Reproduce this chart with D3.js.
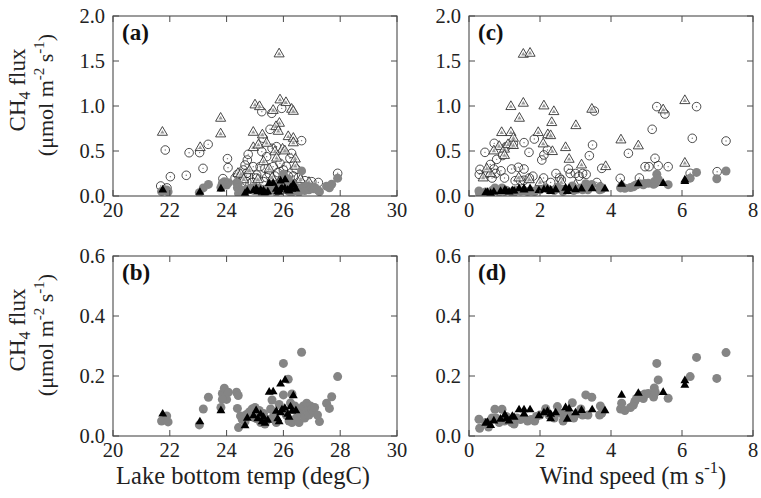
<!DOCTYPE html>
<html>
<head>
<meta charset="utf-8">
<script src="https://cdn.jsdelivr.net/npm/d3@7"></script>
<style>
  html, body { margin: 0; padding: 0; background: #fff; }
  svg { display: block; font-family: "Liberation Serif", "Times New Roman", serif; }
</style>
</head>
<body>
<svg id="chart" width="761" height="498"></svg>
<script>
// ---- data: [x, flux] pairs ----

// lake bottom temperature (degC) vs CH4 flux
const openTriTemp = [
  [21.74, 0.707], [23.79, 0.863], [23.79, 0.689], [23.07, 0.537], [25.85, 1.578],
  [25.00, 1.011], [25.16, 0.992], [25.88, 1.067], [26.09, 1.037], [25.64, 0.950],
  [26.29, 0.963], [26.35, 0.940], [25.86, 0.807], [25.74, 0.770], [24.94, 0.707],
  [25.26, 0.678], [25.82, 0.718], [26.17, 0.659], [26.35, 0.640], [26.35, 0.590],
  [24.94, 0.537], [25.12, 0.566], [25.41, 0.585], [25.97, 0.520], [26.05, 0.500],
  [25.70, 0.490], [25.76, 0.420], [26.42, 0.410], [26.42, 0.330], [25.50, 0.300],
  [24.40, 0.250], [24.50, 0.240], [24.80, 0.280], [24.60, 0.180], [25.10, 0.180],
  [25.60, 0.200], [26.00, 0.170], [26.60, 0.180], [26.90, 0.150], [25.30, 0.380]
];
const openCircTemp = [
  [21.68, 0.111], [21.84, 0.511], [21.90, 0.090], [22.02, 0.215], [22.58, 0.230],
  [22.68, 0.481], [23.05, 0.482], [23.17, 0.307], [23.35, 0.574], [23.87, 0.193],
  [24.03, 0.415], [24.05, 0.315], [24.38, 0.240], [24.71, 0.252], [24.71, 0.159],
  [25.06, 0.200], [25.24, 0.937], [25.94, 0.974], [25.59, 0.919], [25.53, 0.741],
  [25.29, 0.642], [24.76, 0.463], [24.73, 0.400], [26.64, 0.615], [25.24, 0.493],
  [25.41, 0.437], [25.76, 0.548], [25.60, 0.530], [26.23, 0.419], [26.29, 0.474],
  [24.65, 0.344], [24.94, 0.326], [25.18, 0.326], [25.35, 0.307], [25.64, 0.326],
  [25.88, 0.363], [26.00, 0.289], [25.06, 0.233], [24.70, 0.222], [25.41, 0.204],
  [25.70, 0.222], [26.17, 0.222], [26.35, 0.222], [26.53, 0.204], [26.76, 0.170],
  [27.00, 0.159], [27.23, 0.150], [27.91, 0.252], [24.59, 0.289], [24.53, 0.141],
  [24.90, 0.150], [25.30, 0.160], [25.60, 0.170], [25.95, 0.180], [26.10, 0.330],
  [26.45, 0.300], [26.60, 0.150], [25.80, 0.260], [25.50, 0.250], [24.30, 0.200]
];
const blackTriTemp = [
  [21.75, 0.076], [23.06, 0.050], [23.80, 0.087], [24.65, 0.037], [24.73, 0.062],
  [25.04, 0.087], [24.95, 0.070], [25.10, 0.060], [25.20, 0.075], [25.25, 0.050],
  [25.30, 0.065], [25.35, 0.045], [25.45, 0.055], [25.50, 0.149], [25.64, 0.150],
  [25.75, 0.085], [25.80, 0.060], [25.85, 0.050], [25.90, 0.176], [26.06, 0.189],
  [25.95, 0.090], [26.05, 0.095], [26.15, 0.075], [26.20, 0.065], [26.35, 0.137],
  [26.30, 0.085], [26.44, 0.087], [26.25, 0.100], [25.90, 0.080]
];
const greyCircTemp = [
  [21.71, 0.050], [21.89, 0.067], [21.94, 0.047], [23.04, 0.037], [23.18, 0.090],
  [23.36, 0.129], [23.85, 0.142], [23.92, 0.159], [24.06, 0.146], [24.00, 0.122],
  [23.85, 0.122], [23.80, 0.095], [24.35, 0.146], [24.41, 0.135], [24.38, 0.092],
  [24.42, 0.028], [24.49, 0.067], [24.55, 0.055], [24.65, 0.048], [24.70, 0.072],
  [24.80, 0.080], [24.90, 0.090], [24.95, 0.062], [25.00, 0.095], [25.05, 0.058],
  [25.15, 0.085], [25.20, 0.045], [25.30, 0.075], [25.35, 0.040], [25.45, 0.055],
  [25.55, 0.090], [25.60, 0.120], [25.65, 0.065], [25.75, 0.045], [25.85, 0.105],
  [26.00, 0.137], [26.00, 0.242], [26.17, 0.189], [26.10, 0.070], [26.20, 0.050],
  [26.25, 0.110], [26.30, 0.045], [26.30, 0.140], [26.40, 0.100], [26.45, 0.060],
  [26.50, 0.090], [26.55, 0.045], [26.64, 0.279], [26.60, 0.075], [26.70, 0.100],
  [26.75, 0.060], [26.82, 0.109], [26.85, 0.085], [26.90, 0.070], [26.95, 0.100],
  [27.00, 0.090], [27.05, 0.080], [27.10, 0.095], [27.20, 0.070], [27.27, 0.048],
  [27.52, 0.109], [27.62, 0.092], [27.70, 0.131], [27.91, 0.198]
];

// wind speed (m s-1) vs CH4 flux
const openTriWind = [
  [1.53, 1.574], [1.72, 1.585], [1.53, 1.030], [1.18, 0.993], [2.11, 1.000],
  [2.39, 0.937], [1.42, 0.863], [3.46, 0.963], [2.33, 0.815], [3.01, 0.781],
  [0.92, 0.704], [1.18, 0.704], [1.95, 0.704], [2.22, 0.680], [2.30, 0.670],
  [1.25, 0.641], [0.85, 0.550], [1.00, 0.520], [1.10, 0.570], [1.25, 0.560],
  [2.09, 0.578], [0.70, 0.500], [2.35, 0.493], [2.72, 0.537], [2.82, 0.407],
  [3.17, 0.344], [3.85, 0.326], [4.28, 0.622], [4.77, 0.556], [5.47, 0.956],
  [6.08, 0.363], [6.08, 1.059], [0.40, 0.200], [0.60, 0.250], [1.00, 0.450],
  [1.40, 0.200], [1.70, 0.180], [2.00, 0.150], [2.60, 0.150], [3.00, 0.120],
  [0.50, 0.300]
];
const openCircWind = [
  [0.31, 0.296], [0.29, 0.240], [0.45, 0.485], [0.71, 0.585], [0.78, 0.407],
  [0.60, 0.350], [0.70, 0.300], [0.75, 0.250], [0.50, 0.250], [0.65, 0.200],
  [0.90, 0.280], [1.00, 0.200], [1.20, 0.300], [1.39, 0.319], [1.55, 0.593],
  [1.69, 0.485], [1.84, 0.633], [1.30, 0.170], [1.45, 0.170], [1.55, 0.175],
  [1.70, 0.200], [1.80, 0.220], [2.05, 0.400], [2.11, 0.456], [2.21, 0.511],
  [2.10, 0.200], [2.30, 0.150], [2.45, 0.250], [2.55, 0.200], [2.80, 0.300],
  [2.85, 0.250], [3.00, 0.250], [3.10, 0.220], [3.20, 0.250], [3.39, 0.448],
  [3.48, 0.567], [3.53, 0.944], [3.74, 0.307], [3.60, 0.150], [4.26, 0.196],
  [4.49, 0.474], [4.80, 0.200], [4.96, 0.326], [5.07, 0.326], [5.16, 0.741],
  [5.29, 0.993], [5.52, 0.911], [5.24, 0.419], [5.33, 0.337], [5.61, 0.326],
  [6.29, 0.641], [6.41, 0.993], [6.23, 0.252], [6.99, 0.270], [7.24, 0.611],
  [1.05, 0.550], [1.25, 0.580], [0.95, 0.450], [1.55, 0.300], [2.60, 0.180],
  [3.30, 0.240], [3.70, 0.100]
];
const blackTriWind = [
  [0.47, 0.045], [0.52, 0.048], [0.61, 0.038], [0.70, 0.053], [0.89, 0.059],
  [1.01, 0.073], [1.05, 0.060], [1.13, 0.053], [1.22, 0.068], [1.27, 0.065],
  [1.41, 0.090], [1.55, 0.090], [1.72, 0.090], [1.55, 0.076], [1.97, 0.070],
  [2.11, 0.080], [2.21, 0.085], [2.30, 0.075], [2.30, 0.060], [2.44, 0.080],
  [2.72, 0.097], [2.82, 0.093], [2.77, 0.059], [3.00, 0.080], [3.17, 0.088],
  [3.47, 0.090], [3.83, 0.087], [4.30, 0.139], [4.77, 0.145], [5.47, 0.148],
  [6.08, 0.187], [6.08, 0.172]
];
const greyCircWind = [
  [0.28, 0.056], [0.30, 0.026], [0.47, 0.045], [0.55, 0.030], [0.65, 0.060],
  [0.73, 0.089], [0.76, 0.060], [0.93, 0.089], [0.85, 0.045], [1.00, 0.050],
  [1.05, 0.065], [1.20, 0.045], [1.27, 0.040], [1.35, 0.060], [1.45, 0.055],
  [1.55, 0.060], [1.65, 0.050], [1.75, 0.055], [1.85, 0.050], [1.90, 0.065],
  [2.00, 0.070], [2.16, 0.091], [2.25, 0.070], [2.40, 0.060], [2.49, 0.098],
  [2.60, 0.075], [2.65, 0.050], [2.80, 0.070], [2.91, 0.111], [2.95, 0.060],
  [3.05, 0.075], [3.15, 0.090], [3.29, 0.137], [3.46, 0.129], [3.20, 0.070],
  [3.35, 0.070], [3.70, 0.100], [3.74, 0.076], [3.68, 0.070], [4.27, 0.090],
  [4.30, 0.109], [4.39, 0.085], [4.55, 0.095], [4.63, 0.103], [4.67, 0.115],
  [4.72, 0.125], [4.81, 0.135], [4.91, 0.125], [4.95, 0.140], [5.05, 0.142],
  [5.20, 0.130], [5.22, 0.160], [5.25, 0.145], [5.29, 0.242], [5.33, 0.187],
  [5.61, 0.126], [6.23, 0.198], [6.41, 0.262], [6.98, 0.192], [7.24, 0.278]
];

// axis ticks
const tempTicks = [20, 22, 24, 26, 28, 30];
const windTicks = [0, 2, 4, 6, 8];
const fluxTicksTop = [0.0, 0.5, 1.0, 1.5, 2.0];
const fluxTicksBottom = [0.0, 0.2, 0.4, 0.6];

// ---- layout ----
const svg = d3.select('#chart');
const frameColor = '#4a4a4a';
const greyFill = '#858585';

const panels = [
  {label: '(a)', left: 113, top: 16, xDomain: [20, 30], yDomain: [0, 2], xTicks: tempTicks, yTicks: fluxTicksTop,
    open: true, openTri: openTriTemp, openCirc: openCircTemp, blackTri: blackTriTemp, greyCirc: greyCircTemp},
  {label: '(b)', left: 113, top: 256, xDomain: [20, 30], yDomain: [0, 0.6], xTicks: tempTicks, yTicks: fluxTicksBottom,
    open: false, blackTri: blackTriTemp, greyCirc: greyCircTemp},
  {label: '(c)', left: 469, top: 16, xDomain: [0, 8], yDomain: [0, 2], xTicks: windTicks, yTicks: fluxTicksTop,
    open: true, openTri: openTriWind, openCirc: openCircWind, blackTri: blackTriWind, greyCirc: greyCircWind},
  {label: '(d)', left: 469, top: 256, xDomain: [0, 8], yDomain: [0, 0.6], xTicks: windTicks, yTicks: fluxTicksBottom,
    open: false, blackTri: blackTriWind, greyCirc: greyCircWind}
];
const panelW = 284, panelH = 180, tickLen = 6;

const triSmall = d3.symbol().type(d3.symbolTriangle).size(34);
const triOpen = d3.symbol().type(d3.symbolTriangle).size(44);

function drawPanel(p) {
  const x = d3.scaleLinear().domain(p.xDomain).range([p.left, p.left + panelW]);
  const y = d3.scaleLinear().domain(p.yDomain).range([p.top + panelH, p.top]);
  const g = svg.append('g');

  const clipId = 'clip' + p.label.replace(/\W/g, '');
  g.append('clipPath').attr('id', clipId)
    .append('rect').attr('x', p.left).attr('y', p.top).attr('width', panelW).attr('height', panelH);
  const marks = g.append('g').attr('clip-path', `url(#${clipId})`);

  if (p.open) {
    const oc = marks.append('g').selectAll('g').data(p.openCirc).join('g')
      .attr('transform', d => `translate(${x(d[0])},${y(d[1])})`);
    oc.append('circle').attr('r', 4.3).attr('fill', 'none').attr('stroke', '#222').attr('stroke-width', 0.8);
    oc.append('circle').attr('r', 0.7).attr('fill', '#777');

    const ot = marks.append('g').selectAll('g').data(p.openTri).join('g')
      .attr('transform', d => `translate(${x(d[0])},${y(d[1])})`);
    ot.append('path').attr('d', triOpen).attr('fill', '#fff').attr('fill-opacity', 0.6)
      .attr('stroke', '#333').attr('stroke-width', 0.9);
    ot.append('path').attr('d', d3.symbol().type(d3.symbolTriangle).size(8)).attr('fill', '#999');
  }

  marks.append('g').selectAll('circle').data(p.greyCirc).join('circle')
    .attr('cx', d => x(d[0])).attr('cy', d => y(d[1])).attr('r', 4.5)
    .attr('fill', greyFill);

  marks.append('g').selectAll('path').data(p.blackTri).join('path')
    .attr('d', triSmall)
    .attr('transform', d => `translate(${x(d[0])},${y(d[1]) + 0.8})`)
    .attr('fill', '#000');

  // frame
  g.append('rect').attr('x', p.left).attr('y', p.top).attr('width', panelW).attr('height', panelH)
    .attr('fill', 'none').attr('stroke', frameColor).attr('stroke-width', 1.1);

  // inward ticks on all four sides
  const ticks = g.append('g').attr('stroke', frameColor).attr('stroke-width', 1);
  p.xTicks.forEach(t => {
    ticks.append('line').attr('x1', x(t)).attr('x2', x(t)).attr('y1', p.top + panelH).attr('y2', p.top + panelH - tickLen);
    ticks.append('line').attr('x1', x(t)).attr('x2', x(t)).attr('y1', p.top).attr('y2', p.top + tickLen);
  });
  p.yTicks.forEach(t => {
    ticks.append('line').attr('x1', p.left).attr('x2', p.left + tickLen).attr('y1', y(t)).attr('y2', y(t));
    ticks.append('line').attr('x1', p.left + panelW).attr('x2', p.left + panelW - tickLen).attr('y1', y(t)).attr('y2', y(t));
  });

  // tick labels
  g.append('g').selectAll('text').data(p.xTicks).join('text')
    .attr('x', d => x(d)).attr('y', p.top + panelH + 21)
    .attr('text-anchor', 'middle').attr('font-size', 20.5).attr('fill', '#222')
    .text(d => d);
  g.append('g').selectAll('text').data(p.yTicks).join('text')
    .attr('x', p.left - 8).attr('y', d => y(d) + 7)
    .attr('text-anchor', 'end').attr('font-size', 20.5).attr('fill', '#222')
    .text(d => d3.format('.1f')(d));

  // panel label
  g.append('text').attr('x', p.left + 9).attr('y', p.top + 24)
    .attr('font-size', 23).attr('font-weight', 'bold').attr('fill', '#111')
    .text(p.label);
}

panels.forEach(drawPanel);

// y axis titles (left column only)
function yTitle(centerY) {
  const t1 = svg.append('text').attr('font-size', 23).attr('fill', '#222').attr('text-anchor', 'middle')
    .attr('transform', `translate(25,${centerY - 16}) rotate(-90)`);
  t1.append('tspan').text('CH');
  t1.append('tspan').attr('font-size', 16).attr('dy', 5).text('4');
  t1.append('tspan').attr('dy', -5).text(' flux');

  const t2 = svg.append('text').attr('font-size', 22).attr('fill', '#222').attr('text-anchor', 'middle')
    .attr('transform', `translate(53,${centerY - 11}) rotate(-90)`);
  t2.append('tspan').text('(μmol m');
  t2.append('tspan').attr('font-size', 15).attr('dy', -9).text('-2');
  t2.append('tspan').attr('dy', 9).text(' s');
  t2.append('tspan').attr('font-size', 15).attr('dy', -9).text('-1');
  t2.append('tspan').attr('dy', 9).text(')');
}
yTitle(16 + panelH / 2);
yTitle(256 + panelH / 2);

// x axis titles
svg.append('text').attr('x', 243).attr('y', 484).attr('text-anchor', 'middle')
  .attr('font-size', 24.5).attr('fill', '#222').text('Lake bottom temp (degC)');

const wt = svg.append('text').attr('x', 633).attr('y', 484).attr('text-anchor', 'middle')
  .attr('font-size', 24.5).attr('fill', '#222');
wt.append('tspan').text('Wind speed (m s');
wt.append('tspan').attr('font-size', 16.5).attr('dy', -11).text('-1');
wt.append('tspan').attr('dy', 11).text(')');
</script>
</body>
</html>
